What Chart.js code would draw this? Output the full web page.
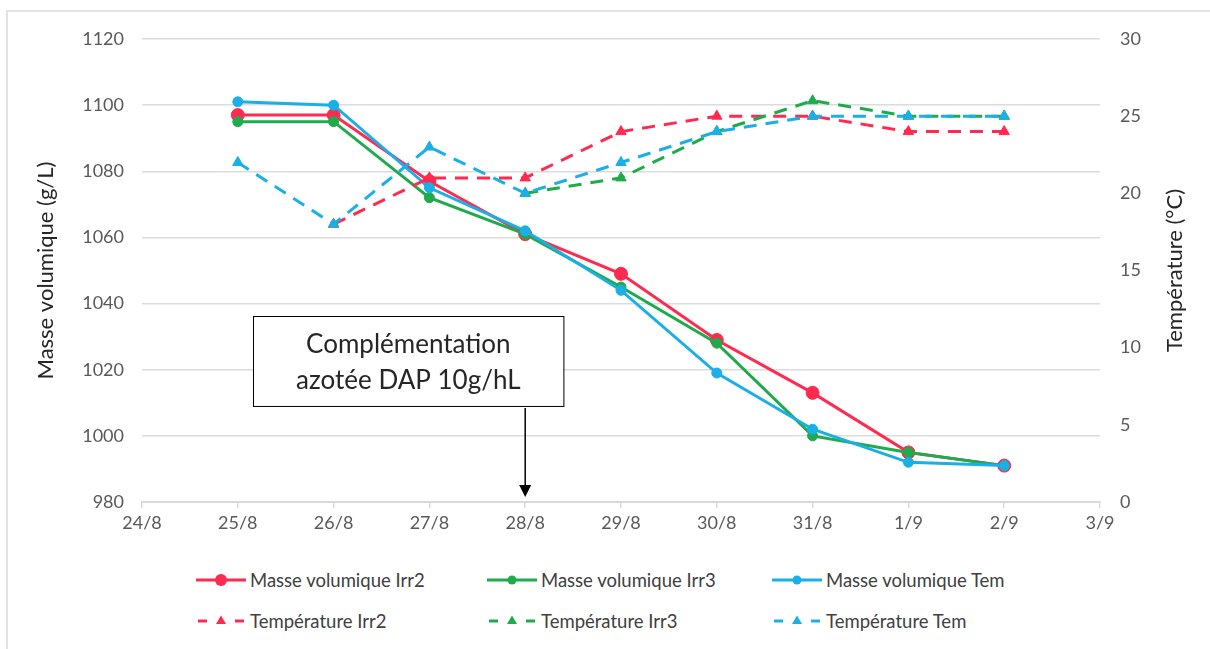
<!DOCTYPE html>
<html>
<head>
<meta charset="utf-8">
<script src="https://cdn.jsdelivr.net/npm/chart.js@4"></script>
<style>
  body { margin: 0; background: #fff; font-family: Lato, sans-serif; }
  #wrap { position: relative; width: 1210px; height: 649px; overflow: hidden; }
  #frame { position: absolute; left: 6px; top: 10px; width: 1300px; height: 700px;
           border-left: 2px solid #e3e3e3; border-top: 2px solid #e3e3e3; }
  #chart { position: absolute; left: 0; top: 0; }
  .item { position: absolute; display: flex; align-items: center; font-size: 18.5px;
          color: #404040; white-space: nowrap; height: 22px; }
  .item canvas { margin-right: 4px; }
</style>
</head>
<body>
<div id="wrap">
  <div id="frame"></div>
  <canvas id="chart" width="1210" height="560"></canvas>
  <div id="legend"></div>
</div>
<script>
// axis labels (days)
const dayLabels = ['24/8', '25/8', '26/8', '27/8', '28/8', '29/8', '30/8', '31/8', '1/9', '2/9', '3/9'];
const sampleDates = ['25/8', '26/8', '27/8', '28/8', '29/8', '30/8', '31/8', '1/9', '2/9'];

// masse volumique (g/L)
const masseIrr2 = [1097, 1097, 1077, 1061, 1049, 1029, 1013, 995, 991];
const masseIrr3 = [1095, 1095, 1072, 1061, 1045, 1028, 1000, 995, 991];
const masseTem  = [1101, 1100, 1075, 1062, 1044, 1019, 1002, 992, 991];

// température (°C)
const tempIrr2 = [null, 18, 21, 21, 24, 25, 25, 24, 24];
const tempIrr3 = [null, null, null, 20, 21, 24, 26, 25, 25];
const tempTem  = [22, 18, 23, 20, 22, 24, 25, 25, 25];

const annotationDate = '28/8';
const annotationLines = ['Complémentation', 'azotée DAP 10g/hL'];

const RED = '#ff2a4f';
const GREEN = '#1fab4c';
const BLUE = '#1aafe6';

function makeDataset(label, values, color, axis, dashed, radius, order) {
    return {
        label: label,
        data: sampleDates.map((d, i) => ({ x: d, y: values[i] })),
        yAxisID: axis,
        borderColor: color,
        backgroundColor: color,
        borderWidth: 3,
        borderDash: dashed ? [13, 9] : [],
        pointStyle: dashed ? 'triangle' : 'circle',
        pointRadius: radius,
        pointBorderWidth: 1,
        fill: false,
        tension: 0,
        spanGaps: false,
        order: order
    };
}

const datasets = [
    makeDataset('Masse volumique Irr2', masseIrr2, RED, 'y', false, 6.5, 6),
    makeDataset('Masse volumique Irr3', masseIrr3, GREEN, 'y', false, 5, 5),
    makeDataset('Masse volumique Tem', masseTem, BLUE, 'y', false, 5, 4),
    makeDataset('Température Irr2', tempIrr2, RED, 'y1', true, 6, 3),
    makeDataset('Température Irr3', tempIrr3, GREEN, 'y1', true, 6, 2),
    makeDataset('Température Tem', tempTem, BLUE, 'y1', true, 6, 1)
];

// box + arrow pointing at the DAP addition day
const annotationPlugin = {
    id: 'dapNote',
    afterDatasetsDraw(chart) {
        const { ctx, scales: { x, y } } = chart;
        const idx = dayLabels.indexOf(annotationDate);
        const ax = x.getPixelForValue(idx);
        const left = x.getPixelForValue(idx - 2.84);
        const right = x.getPixelForValue(idx + 0.40);
        const top = y.getPixelForValue(1036.2);
        const bottom = y.getPixelForValue(1009);
        const tip = y.getPixelForValue(981.5);
        ctx.save();
        ctx.fillStyle = '#fff';
        ctx.fillRect(left, top, right - left, bottom - top);
        ctx.strokeStyle = '#000';
        ctx.lineWidth = 1;
        ctx.strokeRect(Math.round(left) + 0.5, Math.round(top) + 0.5, right - left, bottom - top);
        ctx.fillStyle = '#262626';
        ctx.font = '26px Lato';
        ctx.textAlign = 'center';
        ctx.textBaseline = 'middle';
        const cx = (left + right) / 2;
        ctx.fillText(annotationLines[0], cx, top + 28);
        ctx.fillText(annotationLines[1], cx, top + 64);
        ctx.strokeStyle = '#000';
        ctx.lineWidth = 1.5;
        ctx.beginPath();
        ctx.moveTo(ax, bottom + 2);
        ctx.lineTo(ax, tip - 10);
        ctx.stroke();
        ctx.fillStyle = '#000';
        ctx.beginPath();
        ctx.moveTo(ax - 6, tip - 12);
        ctx.lineTo(ax + 6, tip - 12);
        ctx.lineTo(ax, tip);
        ctx.closePath();
        ctx.fill();
        ctx.restore();
    }
};

// right axis title reads bottom-to-top like the original
const rightTitlePlugin = {
    id: 'rightTitle',
    afterDraw(chart) {
        const { ctx, chartArea } = chart;
        ctx.save();
        ctx.translate(1175, (chartArea.top + chartArea.bottom) / 2);
        ctx.rotate(-Math.PI / 2);
        ctx.fillStyle = '#262626';
        ctx.font = '22px Lato';
        ctx.textAlign = 'center';
        ctx.textBaseline = 'middle';
        ctx.fillText('Température (°C)', 0, 0);
        ctx.restore();
    }
};

const chart = new Chart(document.getElementById('chart'), {
    type: 'line',
    data: { labels: dayLabels, datasets: datasets },
    options: {
        responsive: false,
        animation: false,
        events: [],
        layout: { padding: { top: 39, left: 25, right: 0, bottom: 0 } },
        plugins: { legend: { display: false }, tooltip: { enabled: false } },
        scales: {
            x: {
                type: 'category',
                offset: false,
                grid: { drawOnChartArea: false, drawTicks: true, tickLength: 6, color: '#d9d9d9', lineWidth: 1.5 },
                border: { display: true, color: '#d9d9d9', width: 2 },
                ticks: { color: '#595959', font: { family: 'Lato', size: 18 }, padding: 4, maxRotation: 0, autoSkip: false },
                afterFit(s) { s.height = 58; }
            },
            y: {
                position: 'left',
                min: 980, max: 1120,
                ticks: { stepSize: 20, color: '#595959', font: { family: 'Lato', size: 18 }, padding: 18,
                         callback: v => String(v) },
                grid: { color: '#dcdcdc', lineWidth: 1.5, drawTicks: false },
                border: { display: false },
                title: { display: true, text: 'Masse volumique (g/L)', color: '#262626',
                         font: { family: 'Lato', size: 22 }, padding: { top: 8, bottom: 0 } },
                afterFit(s) { s.width = 117; }
            },
            y1: {
                position: 'right',
                min: 0, max: 30,
                ticks: { stepSize: 5, color: '#595959', font: { family: 'Lato', size: 18 }, padding: 20,
                         callback: v => String(v) },
                grid: { display: false, drawTicks: false },
                border: { display: false },
                afterFit(s) { s.width = 110; }
            }
        }
    },
    plugins: [annotationPlugin, rightTitlePlugin]
});

// legend built from the chart datasets, 3 per row
function buildLegend() {
    const holder = document.getElementById('legend');
    const cols = [196, 487, 772];
    const rows = [569, 610];
    chart.data.datasets.forEach((d, i) => {
        const item = document.createElement('div');
        item.className = 'item';
        item.style.left = cols[i % 3] + 'px';
        item.style.top = rows[Math.floor(i / 3)] + 'px';
        const c = document.createElement('canvas');
        c.width = 50; c.height = 18;
        const g = c.getContext('2d');
        g.strokeStyle = d.borderColor;
        g.fillStyle = d.backgroundColor;
        g.lineWidth = 3;
        if (d.borderDash.length) {
            g.beginPath(); g.moveTo(2, 9); g.lineTo(11, 9); g.stroke();
            g.beginPath(); g.moveTo(39, 9); g.lineTo(48, 9); g.stroke();
            g.beginPath(); g.moveTo(25, 3.5); g.lineTo(30, 12); g.lineTo(20, 12); g.closePath(); g.fill();
        } else {
            g.beginPath(); g.moveTo(0, 9); g.lineTo(50, 9); g.stroke();
            g.beginPath(); g.arc(25, 9, i === 0 ? 6 : 4.5, 0, Math.PI * 2); g.fill();
        }
        item.appendChild(c);
        const t = document.createElement('span');
        t.textContent = d.label;
        item.appendChild(t);
        holder.appendChild(item);
    });
}
buildLegend();
</script>
</body>
</html>
